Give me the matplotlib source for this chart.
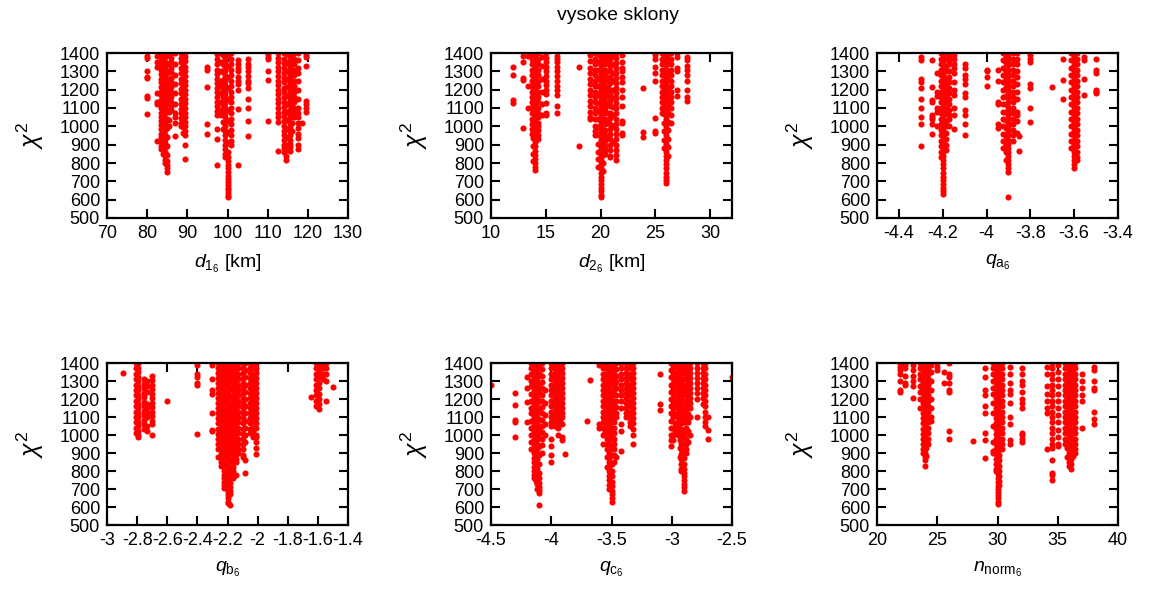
import matplotlib
matplotlib.use("Agg")
import matplotlib.pyplot as plt
from matplotlib.ticker import FuncFormatter

plt.rcParams['font.family'] = ['Liberation Sans', 'DejaVu Sans']
plt.rcParams['mathtext.fontset'] = 'custom'
plt.rcParams['mathtext.rm'] = 'Liberation Sans'
plt.rcParams['mathtext.it'] = 'Liberation Sans:italic'
plt.rcParams['axes.unicode_minus'] = False

# chi^2 values grouped by parameter value (columns of points)
d1_cols = {
    80.0: [1385, 1375, 1300, 1270, 1262, 1165, 1155, 1068],
    82.5: [1385, 1350, 1322, 1180, 1135, 1120, 920],
    83.5: [1400, 1380, 1355, 1330, 1310, 1285, 1260, 1240, 1215, 1190, 1170, 1145, 1120, 1100, 1075,
           1050, 1030, 1005, 985, 960, 940, 915, 895, 878],
    84.0: [1395, 1362, 1318, 1272, 1228, 1196, 1152, 1108, 1062, 1018, 972, 930, 888, 850],
    84.5: [1400, 1378, 1352, 1330, 1305, 1282, 1258, 1235, 1212, 1188, 1165, 1142, 1118, 1095, 1072,
           1048, 1025, 1002, 978, 955, 932, 908, 885, 862, 840, 818, 800],
    85.0: [1390, 1340, 1290, 1240, 1190, 1140, 1090, 1040, 990, 940, 890, 845, 812, 790, 772, 752],
    85.5: [1388, 1346, 1302, 1256, 1212, 1168, 1122, 1078, 1036, 1000],
    86.0: [1400, 1375, 1350, 1320, 1295, 1265, 1240, 1215, 1185, 1160, 1135, 1110, 1090],
    87.0: [1400, 1340, 1280, 1230, 1180, 1120, 1070, 1050, 1020, 947],
    88.5: [1400, 1375, 1350, 1320, 1290, 1260, 1235, 1205, 1180, 1150, 1120, 1095, 1070, 1045, 1020, 1000],
    89.0: [1392, 1348, 1306, 1262, 1218, 1172, 1130, 1085, 1040, 995, 962],
    89.5: [1400, 1380, 1355, 1325, 1300, 1275, 1250, 1225, 1200, 1175, 1150, 1125, 1100, 1075, 1050,
           1025, 1000, 975, 955, 900, 820],
    95.0: [1325, 1305, 1215, 1010, 960],
    97.5: [1395, 1370, 1340, 1310, 1285, 1260, 1235, 1210, 1185, 1160, 1135, 1110, 1085, 1060, 983, 932, 790],
    98.5: [1400, 1350, 1300, 1250, 1220, 1180, 1130, 1090, 1070, 1060],
    99.0: [1388, 1342, 1296, 1252, 1206, 1162, 1116, 1072, 1026, 985],
    99.5: [1400, 1375, 1350, 1325, 1300, 1275, 1250, 1225, 1200, 1175, 1150, 1125, 1100, 1075, 1050,
           1025, 1000, 975, 950, 925, 900, 875, 850, 830],
    100.0: [1390, 1330, 1270, 1210, 1150, 1090, 1030, 970, 910, 860, 835, 810, 790, 770, 750, 730, 712,
            695, 680, 665, 650, 635, 622, 612],
    100.8: [1400, 1370, 1340, 1310, 1280, 1250, 1220, 1190, 1160, 1130, 1100, 1070, 1040, 1010, 980, 950, 920, 900],
    102.5: [1360, 1340, 1320, 1300, 1270, 1250, 1230, 1200, 1095, 790],
    105.0: [1365, 1340, 1325, 1300, 1275, 1250, 1235, 1210, 1150, 1100, 1030, 945],
    110.0: [1395, 1380, 1370, 1300, 1255, 1030],
    112.5: [1400, 1375, 1350, 1325, 1300, 1275, 1250, 1225, 1200, 1175, 1150, 1125, 1100, 1075, 1050, 1025, 865],
    114.0: [1400, 1370, 1345, 1320, 1290, 1265, 1240, 1210, 1185, 1160, 1130, 1105, 1080, 1055, 1030,
            1000, 975, 950, 925, 900, 880, 860],
    114.5: [870, 840, 815],
    114.8: [1392, 1346, 1302, 1256, 1212, 1166, 1122, 1076, 1032, 988, 944, 900],
    115.5: [1400, 1378, 1355, 1330, 1305, 1282, 1258, 1235, 1210, 1185, 1162, 1138, 1115, 1090, 1068,
            1045, 1020, 998, 975, 950, 928, 905, 885, 865],
    116.0: [1385, 1338, 1292, 1248, 1204, 1158, 1112, 1066, 1020, 975],
    116.5: [1400, 1370, 1340, 1310, 1280, 1250, 1220, 1190, 1160, 1130, 1100, 1075, 1050],
    117.5: [1400, 1360, 1320, 1290, 1250, 1200, 1150, 1100, 1070, 1050, 1020, 990, 960, 935, 900, 875],
    118.5: [1020],
    119.5: [1390, 1380, 1330, 1140, 1120, 1100, 1080],
}

d2_cols = {
    12.0: [1322, 1278, 1145, 1128],
    12.9: [1385, 1352, 1265, 1255, 990],
    13.4: [1385, 1220, 1100],
    13.7: [1400, 1370, 1340, 1310, 1280, 1250, 1220, 1190, 1160, 1130, 1100, 1070, 1040, 1010, 985, 960],
    13.85: [1388, 1344, 1298, 1254, 1208, 1162, 1118, 1072, 1028, 982, 938, 894, 850, 812],
    14.0: [1400, 1378, 1355, 1330, 1308, 1285, 1262, 1240, 1215, 1192, 1170, 1146, 1122, 1100, 1076,
           1052, 1030, 1006, 982, 960, 936, 912, 890, 866, 845, 822, 800, 780, 763],
    14.3: [1400, 1370, 1340, 1310, 1280, 1250, 1220, 1190, 1160, 1130, 1100, 1075, 1050, 1020, 1000, 980, 950, 930],
    14.7: [1380, 1330, 1260, 1190, 1120, 1060],
    15.05: [1400, 1375, 1350, 1325, 1300, 1275, 1250, 1225, 1200, 1175, 1125, 1070, 1060],
    16.0: [1385, 1365, 1350, 1325, 1300, 1275, 1245, 1220, 1200, 1170, 1110, 1075],
    18.0: [1325, 890],
    19.0: [1390, 1355, 1320, 1290, 1260, 1230, 1200, 1170, 1140, 1110, 1080, 1050, 1040],
    19.5: [1400, 1370, 1340, 1310, 1280, 1250, 1220, 1190, 1160, 1130, 1100, 1070, 1040, 1000, 975, 950],
    19.8: [1392, 1350, 1306, 1262, 1218, 1174, 1128, 1084, 1040, 996, 950, 906, 862, 820, 780],
    20.0: [1400, 1378, 1355, 1332, 1310, 1288, 1265, 1242, 1220, 1198, 1175, 1152, 1130, 1108, 1085,
           1062, 1040, 1018, 995, 972, 950, 928, 905, 882, 860, 838, 815, 792, 770, 748, 726, 705, 685,
           665, 645, 625, 612],
    20.2: [1386, 1342, 1296, 1252, 1206, 1160, 1116, 1070, 1026, 980, 936, 890, 846, 800, 756],
    20.4: [1400, 1370, 1340, 1310, 1280, 1250, 1220, 1190, 1160, 1130, 1100, 1070, 1040, 1010, 980, 950,
           920, 895, 870, 850],
    20.65: [1390, 1346, 1300, 1254, 1210, 1164, 1118, 1074, 1030, 940],
    20.9: [1400, 1365, 1330, 1300, 1270, 1235, 1200, 1170, 1140, 1110, 1075, 1045, 1010, 985, 960, 930,
           900, 870, 840, 830],
    21.15: [1384, 1338, 1292, 1246, 1200, 1154, 1108, 1062, 1000, 915],
    21.4: [1400, 1372, 1345, 1318, 1290, 1262, 1235, 1208, 1180, 1152, 1125, 1098, 1070, 1042, 1015, 988,
           960, 930, 900, 870, 845, 815],
    21.95: [1390, 1350, 1320, 1300, 1270, 1240, 1200, 1160, 1110, 1030, 1020, 965, 955],
    23.9: [1210, 970, 940],
    25.0: [1390, 1370, 1325, 1290, 1250, 1045, 975, 965],
    25.6: [1400, 1370, 1340, 1310, 1280, 1250, 1220, 1190, 1160, 1130, 1100, 1070],
    25.8: [1388, 1342, 1296, 1250, 1204, 1158, 1112, 1066, 1020, 974, 928, 880],
    26.0: [1400, 1378, 1355, 1332, 1310, 1288, 1265, 1242, 1220, 1198, 1175, 1152, 1130, 1108, 1085,
           1062, 1040, 1018, 995, 972, 950, 928, 905, 882, 860, 838, 815, 792, 770, 748, 726, 705, 692],
    26.2: [1392, 1346, 1300, 1254, 1208, 1162, 1116, 1070, 1024, 978, 932, 886, 840],
    26.4: [1400, 1370, 1340, 1310, 1280, 1250, 1220, 1190, 1160, 1130, 1100, 1060, 1020],
    27.0: [1400, 1380, 1320, 1300, 1200, 1165],
    27.9: [1380, 1360, 1330, 1305, 1280, 1250, 1200, 1160, 1140],
}

qa_cols = {
    -4.30: [1380, 1360, 1260, 1240, 1210, 1150, 1100, 1050, 1010, 890],
    -4.25: [1360, 1215, 1145, 1135, 1060, 1050, 1040, 1015, 960],
    -4.225: [1290, 1190, 1165, 1100, 1080, 1000],
    -4.21: [1400, 1370, 1340, 1310, 1280, 1250, 1220, 1190, 1160, 1130, 1100, 1070, 1040, 1010, 980, 950,
            920, 890, 860, 830],
    -4.20: [1400, 1378, 1355, 1332, 1310, 1288, 1265, 1242, 1220, 1198, 1175, 1152, 1130, 1108, 1085,
            1062, 1040, 1018, 995, 972, 950, 928, 905, 882, 860, 838, 815, 792, 770, 748, 726, 705, 685,
            665, 648, 630],
    -4.185: [1400, 1365, 1330, 1300, 1265, 1230, 1200, 1165, 1130, 1100, 1065, 1030, 1000, 965, 930, 900, 870],
    -4.17: [1400, 1380, 1360, 1340, 1300, 1270, 1240, 1210, 1180, 1150, 1120, 1090, 1060, 1040, 1000],
    -4.15: [1390, 1370, 1340, 1320, 1290, 1240, 1200, 1170, 1100, 1060, 985],
    -4.10: [1340, 1320, 1280, 1260, 1230, 1180, 1160, 1090, 1060, 1010, 950],
    -4.00: [1310, 1300, 1270, 1220],
    -3.95: [1310, 1250, 1130, 1120, 1010, 990],
    -3.925: [1400, 1360, 1320, 1280, 1240, 1200, 1160, 1120, 1080, 1040, 1000, 960, 920, 880],
    -3.91: [1386, 1344, 1300, 1256, 1212, 1168, 1124, 1080, 1036, 992, 948, 904, 860, 818],
    -3.90: [1400, 1378, 1355, 1332, 1310, 1288, 1265, 1242, 1220, 1198, 1175, 1152, 1130, 1108, 1085,
            1062, 1040, 1018, 995, 972, 950, 928, 905, 882, 860, 838, 815, 792, 770, 752, 612],
    -3.88: [1400, 1370, 1340, 1310, 1280, 1250, 1220, 1190, 1160, 1130, 1100, 1070, 1040, 1010, 980, 950, 920],
    -3.86: [1400, 1370, 1340, 1300, 1270, 1230, 1190, 1150, 1080, 1060, 1030, 965],
    -3.85: [945, 865],
    -3.80: [1390, 1370, 1350, 1230, 1210, 1100, 1025],
    -3.70: [1215],
    -3.65: [1370, 1255, 1150],
    -3.615: [1400, 1360, 1320, 1280, 1240, 1200, 1160, 1120, 1080, 1040, 1000, 960, 920, 880],
    -3.60: [1400, 1378, 1355, 1332, 1310, 1288, 1265, 1242, 1220, 1198, 1175, 1152, 1130, 1108, 1085,
            1062, 1040, 1018, 995, 972, 950, 928, 905, 882, 860, 838, 815, 792, 770],
    -3.585: [1400, 1370, 1340, 1310, 1280, 1250, 1220, 1190, 1160, 1130, 1100, 1070, 1040, 1010, 980, 950,
             920, 890, 860, 835, 815],
    -3.555: [1380, 1360, 1260, 1170],
    -3.50: [1365, 1310, 1290, 1200, 1190, 1180],
}

qb_cols = {
    -2.895: [1345],
    -2.81: [1400, 1370, 1340, 1310, 1280, 1250, 1220, 1190, 1160, 1130, 1100, 1070, 1040, 1010],
    -2.795: [1400, 1375, 1350, 1325, 1300, 1275, 1250, 1225, 1200, 1175, 1150, 1125, 1100, 1075, 1050,
             1025, 1000, 990],
    -2.755: [1310, 1285, 1260, 1235, 1210, 1185, 1160, 1135, 1110, 1085, 1060, 1035],
    -2.735: [1300, 1270, 1240, 1170, 1150, 1120, 1100, 1050, 1025],
    -2.70: [1330, 1305, 1280, 1255, 1230, 1205, 1180, 1155, 1130, 1105, 1080, 1060, 1000],
    -2.60: [1190],
    -2.40: [1390, 1340, 1320, 1290, 1280, 1005],
    -2.30: [1390, 1310, 1250, 1230, 1120, 1030, 1020],
    -2.26: [1400, 1372, 1344, 1316, 1288, 1260, 1232, 1204, 1176, 1148, 1120, 1092, 1064, 1036, 1008, 980,
            950, 925, 880],
    -2.24: [1400, 1376, 1352, 1328, 1304, 1280, 1256, 1232, 1208, 1184, 1160, 1136, 1112, 1088, 1064,
            1040, 1016, 992, 968, 944, 920, 896, 872, 850, 826],
    -2.22: [1400, 1377, 1354, 1331, 1308, 1285, 1262, 1239, 1216, 1193, 1170, 1147, 1124, 1101, 1078,
            1055, 1032, 1009, 986, 963, 940, 917, 894, 871, 848, 825, 802, 780, 760, 740, 720, 705],
    -2.20: [1400, 1378, 1356, 1334, 1312, 1290, 1268, 1246, 1224, 1202, 1180, 1158, 1136, 1114, 1092,
            1070, 1048, 1026, 1004, 982, 960, 938, 916, 894, 872, 850, 828, 806, 784, 762, 740, 718, 700,
            682, 665, 648, 630, 622],
    -2.185: [1395, 1350, 1305, 1260, 1215, 1170, 1125, 1080, 1035, 990, 945, 900, 860, 820, 790, 760, 735,
             710, 690, 670, 612],
    -2.165: [1400, 1375, 1350, 1325, 1300, 1275, 1250, 1225, 1200, 1175, 1150, 1125, 1100, 1075, 1050,
             1025, 1000, 975, 950, 925, 900, 875, 850, 825, 800, 780, 760],
    -2.145: [1400, 1372, 1344, 1316, 1288, 1260, 1232, 1204, 1176, 1148, 1120, 1092, 1064, 1036, 1008,
             980, 952, 924, 896, 868, 850, 780],
    -2.13: [1400, 1370, 1340, 1310, 1280, 1250, 1220, 1190, 1160, 1130, 1100, 1070, 1040, 1010, 980, 950, 920, 900],
    -2.10: [1400, 1372, 1344, 1316, 1288, 1260, 1232, 1204, 1176, 1148, 1120, 1092, 1064, 1036, 1008, 980,
            950, 920, 890, 880],
    -2.085: [1400, 1360, 1320, 1280, 1240, 1200, 1160, 1120, 1080, 1040, 1000, 960, 860, 790],
    -2.05: [1400, 1372, 1344, 1316, 1288, 1260, 1232, 1204, 1176, 1148, 1120, 1092, 1064, 1036, 1010],
    -2.03: [1400, 1370, 1340, 1310, 1280, 1250, 1220, 1190, 1160, 1130, 1100, 1070, 1040, 1020, 990],
    -2.01: [1400, 1372, 1344, 1316, 1288, 1260, 1232, 1204, 1176, 1148, 1120, 1092, 1064, 1040, 1000, 990,
            960, 930, 895],
    -1.645: [1210],
    -1.61: [1400, 1370, 1340, 1310, 1280, 1250, 1220, 1190, 1160],
    -1.595: [1400, 1380, 1350, 1320, 1290, 1260, 1230, 1200, 1170, 1145],
    -1.565: [1400, 1370, 1340, 1310],
    -1.545: [1400, 1370, 1340, 1300, 1190],
    -1.50: [1265],
}

qc_cols = {
    -4.50: [1280],
    -4.30: [1235, 1165, 1085, 1070, 990],
    -4.20: [1325, 1260, 1185, 1070],
    -4.165: [1400, 1370, 1340, 1300, 1270, 1230, 1190, 1150, 1120, 1080, 1040, 1000, 960, 920],
    -4.14: [1400, 1375, 1350, 1325, 1300, 1275, 1250, 1225, 1200, 1175, 1150, 1125, 1100, 1075, 1050,
            1025, 1000, 975, 950, 925, 900, 875, 850, 825, 800, 780, 760],
    -4.125: [1388, 1342, 1296, 1250, 1204, 1158, 1112, 1066, 1020, 974, 928, 882, 836, 790, 746],
    -4.115: [1400, 1372, 1344, 1316, 1288, 1260, 1232, 1204, 1176, 1148, 1120, 1092, 1064, 1036, 1008,
             980, 952, 924, 896, 868, 840, 812, 784, 756, 730, 700],
    -4.10: [1390, 1340, 1290, 1240, 1190, 1140, 1090, 1040, 990, 940, 890, 840, 790, 760, 735, 710, 695,
            680, 612],
    -4.08: [1400, 1365, 1330, 1295, 1260, 1225, 1190, 1155, 1120, 1085, 1050, 1015, 980, 945, 900],
    -4.05: [1250, 1180, 1110, 1060, 1000],
    -4.00: [1400, 1370, 1340, 1310, 1280, 1250, 1220, 1190, 1160, 1130, 1100, 1070, 1050, 980, 940, 890, 850],
    -3.97: [1400, 1372, 1344, 1316, 1288, 1260, 1232, 1204, 1176, 1148, 1120, 1092, 1064, 1050],
    -3.955: [1386, 1338, 1290, 1244, 1196, 1150, 1102, 1056],
    -3.94: [1400, 1370, 1340, 1310, 1280, 1250, 1220, 1190, 1160, 1130, 1100, 1070, 1040, 1000],
    -3.925: [1390, 1342, 1296, 1250, 1204, 1158, 1112, 1080],
    -3.91: [1400, 1372, 1344, 1316, 1288, 1260, 1232, 1204, 1176, 1148, 1120, 1100, 1060, 990, 970],
    -3.89: [895],
    -3.70: [1080],
    -3.68: [1305],
    -3.60: [1390, 1060, 1040],
    -3.57: [1400, 1370, 1340, 1310, 1280, 1250, 1220, 1190, 1160, 1130, 1100, 1070, 1040, 1000, 950],
    -3.555: [1386, 1340, 1294, 1248, 1202, 1156, 1110, 1064, 1018],
    -3.54: [1400, 1372, 1344, 1316, 1288, 1260, 1232, 1204, 1176, 1148, 1120, 1092, 1064, 1036, 1008,
            980, 950, 920, 880, 820],
    -3.52: [1400, 1375, 1350, 1325, 1300, 1275, 1250, 1225, 1200, 1175, 1150, 1125, 1100, 1075, 1050,
            1025, 1000, 975, 950, 925, 900, 875, 850, 825, 800, 775, 750, 725, 700],
    -3.51: [1388, 1344, 1298, 1252, 1206, 1160, 1114, 1068, 1022, 976, 930, 884, 838, 790],
    -3.50: [1390, 1340, 1290, 1240, 1190, 1140, 1090, 1040, 990, 940, 890, 840, 800, 770, 740, 715, 690,
            670, 650, 630],
    -3.48: [1400, 1370, 1340, 1310, 1280, 1250, 1220, 1190, 1160, 1130, 1100, 1070, 1040, 1010, 980, 950,
            920, 890, 850],
    -3.46: [1400, 1365, 1330, 1295, 1260, 1225, 1190, 1155, 1120, 1100, 880],
    -3.42: [1400, 1370, 1340, 1310, 1280, 1250, 1220, 1190, 1150, 1060, 1020, 910],
    -3.38: [1400, 1372, 1344, 1316, 1288, 1260, 1232, 1204, 1176, 1148, 1120, 1100],
    -3.35: [1400, 1370, 1340, 1310, 1280, 1250, 1220, 1190, 1160, 1130, 1100, 1070, 1050],
    -3.32: [1400, 1372, 1344, 1316, 1288, 1260, 1232, 1204, 1176, 1148, 1120, 1092, 1064, 1036, 1000, 950],
    -3.10: [1340, 1170, 1140],
    -3.01: [1400, 1360, 1320, 1280, 1240, 1200, 1160, 1120, 1080, 1040, 1000, 970, 940],
    -2.99: [1400, 1372, 1344, 1316, 1288, 1260, 1232, 1204, 1176, 1148, 1120, 1100, 1040, 1000, 970],
    -2.97: [1388, 1340, 1294, 1248, 1202, 1156, 1110, 1064, 1020],
    -2.95: [1400, 1375, 1350, 1325, 1300, 1275, 1250, 1225, 1200, 1175, 1150, 1125, 1100, 1075, 1050,
            1025, 1000],
    -2.935: [1386, 1340, 1294, 1248, 1202, 1156, 1110, 1064, 1018, 972, 926, 880],
    -2.92: [1400, 1372, 1344, 1316, 1288, 1260, 1232, 1204, 1176, 1148, 1120, 1092, 1064, 1036, 1008,
            980, 952, 924, 896, 868, 840, 812, 800],
    -2.90: [1390, 1350, 1310, 1270, 1230, 1190, 1150, 1110, 1070, 1030, 990, 950, 910, 870, 840, 810, 790,
            770, 750, 730, 710, 690],
    -2.88: [1400, 1370, 1340, 1310, 1280, 1250, 1220, 1190, 1160, 1130, 1100, 1070, 1040, 1010, 980, 950, 920, 900],
    -2.865: [1392, 1346, 1300, 1254, 1208, 1162, 1116, 1070, 1024, 960],
    -2.85: [1400, 1372, 1344, 1316, 1288, 1260, 1232, 1204, 1176, 1148, 1100, 1000],
    -2.79: [1400, 1372, 1344, 1316, 1288, 1260, 1232, 1200, 1100],
    -2.74: [1400, 1372, 1344, 1316, 1288, 1260, 1232, 1204, 1170],
    -2.72: [1400, 1370, 1340, 1310, 1280, 1250, 1220, 1190, 1160, 1130, 1100, 1070, 1050],
    -2.70: [1100, 1030, 980],
    -2.50: [1320],
}

nn_cols = {
    21.9: [1400, 1380, 1360, 1340, 1300, 1250, 1240],
    22.3: [1400, 1390, 1370, 1330, 1290, 1280],
    23.0: [1390, 1360, 1330, 1300, 1270, 1204],
    23.6: [1400, 1370, 1340, 1310, 1270, 1240, 1200, 1150],
    23.85: [1400, 1372, 1344, 1316, 1288, 1260, 1232, 1204, 1176, 1148, 1120, 1092, 1064, 1036, 1008, 980,
            952, 924, 900],
    24.0: [1400, 1375, 1350, 1325, 1300, 1275, 1250, 1225, 1200, 1175, 1150, 1125, 1100, 1075, 1050, 1025,
           1000, 975, 950, 925, 900, 880, 860, 828],
    24.1: [1388, 1342, 1296, 1250, 1204, 1158, 1112, 1066, 1020, 974, 928, 884],
    24.2: [1400, 1370, 1340, 1310, 1280, 1250, 1220, 1190, 1160, 1130, 1100, 1070, 1040, 1010, 980, 950],
    24.5: [1390, 1350, 1300, 1250, 1200, 1150, 1100, 1080],
    25.0: [1400, 1380, 1360],
    25.6: [1350, 1290],
    26.0: [1400, 1340, 1320, 1290, 1250, 1240, 1020, 980],
    28.0: [965],
    29.0: [1370, 1320, 1250, 1220, 1160, 1120, 1010, 970, 870],
    29.6: [1400, 1370, 1340, 1300, 1260, 1230, 1180, 1120, 1050, 960, 910, 900],
    29.85: [1400, 1372, 1344, 1316, 1288, 1260, 1232, 1204, 1176, 1148, 1120, 1092, 1064, 1036, 1008, 980,
            952, 924, 896, 868, 840, 812, 800],
    30.0: [1400, 1378, 1356, 1334, 1312, 1290, 1268, 1246, 1224, 1202, 1180, 1158, 1136, 1114, 1092, 1070,
           1048, 1026, 1004, 982, 960, 938, 916, 894, 872, 850, 828, 806, 784, 762, 740, 718, 700, 682,
           665, 648, 630, 618],
    30.15: [1400, 1370, 1340, 1310, 1280, 1250, 1220, 1190, 1160, 1130, 1100, 1070, 1040, 1010, 980, 950,
            920, 890, 860, 830, 800, 770, 745, 720],
    30.4: [1400, 1370, 1340, 1310, 1280, 1250, 1220, 1190, 1160, 1130, 1100, 1070, 1040, 1010, 980, 950, 920],
    31.0: [1380, 1340, 1290, 1250, 1230, 1180, 1100, 1060, 970, 950],
    32.0: [1370, 1340, 1300, 1280, 1240, 1200, 1180, 1150, 1010, 1000, 980, 960],
    34.1: [1380, 1340, 1270, 1230, 1190, 1150, 1120, 920],
    34.5: [1400, 1370, 1340, 1310, 1280, 1250, 1220, 1190, 1160, 1130, 1100, 1070, 1040, 1010, 980, 950,
           930, 860, 790, 780, 750],
    35.0: [1390, 1350, 1310, 1270, 1230, 1190, 1150, 1110, 1070, 1030, 990, 950, 940],
    35.6: [1400, 1370, 1340, 1310, 1280, 1250, 1220, 1190, 1160, 1130, 1100, 1070, 1040, 1010, 980, 950],
    35.75: [1386, 1340, 1294, 1248, 1202, 1156, 1110, 1064, 1018, 972, 926, 880],
    35.9: [1400, 1375, 1350, 1325, 1300, 1275, 1250, 1225, 1200, 1175, 1150, 1125, 1100, 1075, 1050, 1025,
           1000, 975, 950, 925, 900, 875, 850, 830],
    36.1: [1400, 1372, 1344, 1316, 1288, 1260, 1232, 1204, 1176, 1148, 1120, 1092, 1064, 1036, 1008, 980,
           952, 924, 896, 868, 840, 810],
    36.25: [1390, 1344, 1298, 1252, 1206, 1160, 1114, 1068, 1022, 976, 930, 886],
    36.4: [1400, 1370, 1340, 1310, 1280, 1250, 1220, 1190, 1160, 1130, 1100, 1070, 1040, 1010, 980, 950, 920, 900],
    37.0: [1340, 1300, 1260, 1220, 1190, 1040],
    38.0: [1380, 1360, 1300, 1260, 1250, 1130, 1090, 1060],
}

xlabels = [r'$d_{1_6}$ [km]', r'$d_{2_6}$ [km]', r'$q_{\mathrm{a}_6}$',
           r'$q_{\mathrm{b}_6}$', r'$q_{\mathrm{c}_6}$', r'$n_{\mathrm{norm}_6}$']
xlims = [(70, 130), (10, 32), (-4.5, -3.4), (-3.0, -1.4), (-4.5, -2.5), (20, 40)]
xticks = [[70, 80, 90, 100, 110, 120, 130],
          [10, 15, 20, 25, 30],
          [-4.4, -4.2, -4.0, -3.8, -3.6, -3.4],
          [-3.0, -2.8, -2.6, -2.4, -2.2, -2.0, -1.8, -1.6, -1.4],
          [-4.5, -4.0, -3.5, -3.0, -2.5],
          [20, 25, 30, 35, 40]]
yticks = [500, 600, 700, 800, 900, 1000, 1100, 1200, 1300, 1400]
panels = [d1_cols, d2_cols, qa_cols, qb_cols, qc_cols, nn_cols]

W, H = 1151, 590
fig = plt.figure(figsize=(W / 100, H / 100), dpi=100)

lefts = [107, 491, 877]
rows = [(53, 218), (363, 525)]

for i, cols in enumerate(panels):
    r, c = divmod(i, 3)
    top, bot = rows[r]
    ax = fig.add_axes([lefts[c] / W, 1 - bot / H, 241 / W, (bot - top) / H])
    ax.set_axisbelow(True)
    xs, ys = [], []
    for xv, vals in cols.items():
        xs += [xv] * len(vals)
        ys += vals
    ax.plot(xs, ys, 'o', color='#ff0000', markersize=4.4, markeredgewidth=0, zorder=2)
    ax.set_xlim(*xlims[i])
    ax.set_ylim(500, 1400)
    ax.set_xticks(xticks[i])
    ax.set_yticks(yticks)
    ax.xaxis.set_major_formatter(FuncFormatter(lambda v, p: '%g' % v))
    ax.tick_params(direction='in', length=6.5, width=1.5, top=True, right=True,
                   labelsize=13, pad=5, colors='black')
    for s in ax.spines.values():
        s.set_linewidth(1.6)
        s.set_zorder(3)
    ax.set_xlabel(xlabels[i], fontsize=14, labelpad=8)
    ax.text(-0.32, 0.5, r'$\chi^2$', transform=ax.transAxes, rotation=90,
            ha='center', va='center', fontsize=18)

fig.text(618 / W, 1 - 16 / H, 'vysoke sklony', ha='center', va='center', fontsize=14)

fig.savefig('out.png', dpi=100)
